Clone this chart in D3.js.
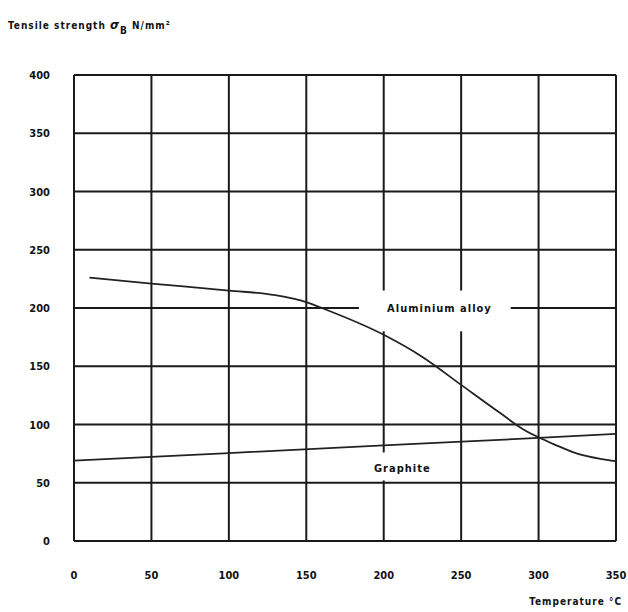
<!DOCTYPE html>
<html>
<head>
<meta charset="utf-8">
<script src="https://cdn.jsdelivr.net/npm/d3@7"></script>
<style>
  body { margin: 0; background: #fff; }
  text { font-family: "DejaVu Sans Condensed", "Liberation Sans Narrow", sans-serif; font-weight: bold; fill: #111; }
</style>
</head>
<body>
<div id="main"></div>
<script>
var xTicks = [0, 50, 100, 150, 200, 250, 300, 350];
var yTicks = [0, 50, 100, 150, 200, 250, 300, 350, 400];
var aluminiumTemp = [10, 50, 100, 130, 150, 160, 200, 225, 250, 275, 290, 300, 310, 325, 340, 350];
var aluminiumStrength = [226, 221, 215, 211, 205, 200, 177, 158, 134, 110, 96, 89, 83, 75, 70.5, 68.5];
var graphiteTemp = [0, 100, 200, 300, 350];
var graphiteStrength = [69, 75.5, 82, 88.5, 92];

var margin = {left: 74, top: 75, right: 12, bottom: 71};
var width = 628 - margin.left - margin.right, height = 612 - margin.top - margin.bottom;

var x = d3.scaleLinear().domain([0, 350]).range([0, width]);//temperature scale
var y = d3.scaleLinear().domain([0, 400]).range([height, 0]);//strength scale

var svg = d3.select("#main").append("svg")
  .attr("width", 628)
  .attr("height", 612);
var g = svg.append("g").attr("transform", "translate(" + margin.left + "," + margin.top + ")");

// grid
g.selectAll(".hgrid").data(yTicks).enter().append("line")
  .attr("x1", 0).attr("x2", width)
  .attr("y1", function(d) { return y(d); }).attr("y2", function(d) { return y(d); })
  .attr("stroke", "#1a1a1a").attr("stroke-width", 2);
g.selectAll(".vgrid").data(xTicks).enter().append("line")
  .attr("y1", 0).attr("y2", height)
  .attr("x1", function(d) { return x(d); }).attr("x2", function(d) { return x(d); })
  .attr("stroke", "#1a1a1a").attr("stroke-width", 2);

// white gaps behind curve labels
g.append("rect").attr("x", x(184)).attr("y", y(215)).attr("width", x(98)).attr("height", y(180) - y(215)).attr("fill", "#fff");
g.append("rect").attr("x", x(192)).attr("y", y(76)).attr("width", x(40)).attr("height", y(52) - y(76)).attr("fill", "#fff");

var line = d3.line().curve(d3.curveMonotoneX)
  .x(function(d) { return x(d[0]); })
  .y(function(d) { return y(d[1]); });

g.append("path")
  .datum(aluminiumTemp.map(function(t, i) { return [t, aluminiumStrength[i]]; }))
  .attr("d", line).attr("fill", "none").attr("stroke", "#222").attr("stroke-width", 1.8);
g.append("path")
  .datum(graphiteTemp.map(function(t, i) { return [t, graphiteStrength[i]]; }))
  .attr("d", line).attr("fill", "none").attr("stroke", "#222").attr("stroke-width", 1.8);

// curve labels
g.append("text").attr("x", x(236)).attr("y", y(200) + 4)
  .attr("text-anchor", "middle").style("font-size", "11px").style("letter-spacing", "1px")
  .text("Aluminium alloy");
g.append("text").attr("x", x(212)).attr("y", y(63) + 4)
  .attr("text-anchor", "middle").style("font-size", "11px").style("letter-spacing", "1px")
  .text("Graphite");

// axes labels
g.selectAll(".ylab").data(yTicks).enter().append("text")
  .attr("x", -24).attr("y", function(d) { return y(d) + 4; })
  .attr("text-anchor", "end").style("font-size", "11px")
  .text(function(d) { return d; });
g.selectAll(".xlab").data(xTicks).enter().append("text")
  .attr("x", function(d) { return x(d); }).attr("y", height + 38)
  .attr("text-anchor", "middle").style("font-size", "11px")
  .text(function(d) { return d; });

// titles
var title = svg.append("text").attr("x", 8).attr("y", 29).style("font-size", "10px").style("letter-spacing", "1px");
title.append("tspan").text("Tensile strength ");
title.append("tspan").style("font-size", "13px").style("font-style", "italic").text(" σ");
title.append("tspan").attr("dy", 5).text("B");
title.append("tspan").attr("dy", -5).text(" N/mm²");

svg.append("text").attr("x", 622).attr("y", 605)
  .attr("text-anchor", "end").style("font-size", "10px").style("letter-spacing", "1px")
  .text("Temperature °C");
</script>
</body>
</html>
